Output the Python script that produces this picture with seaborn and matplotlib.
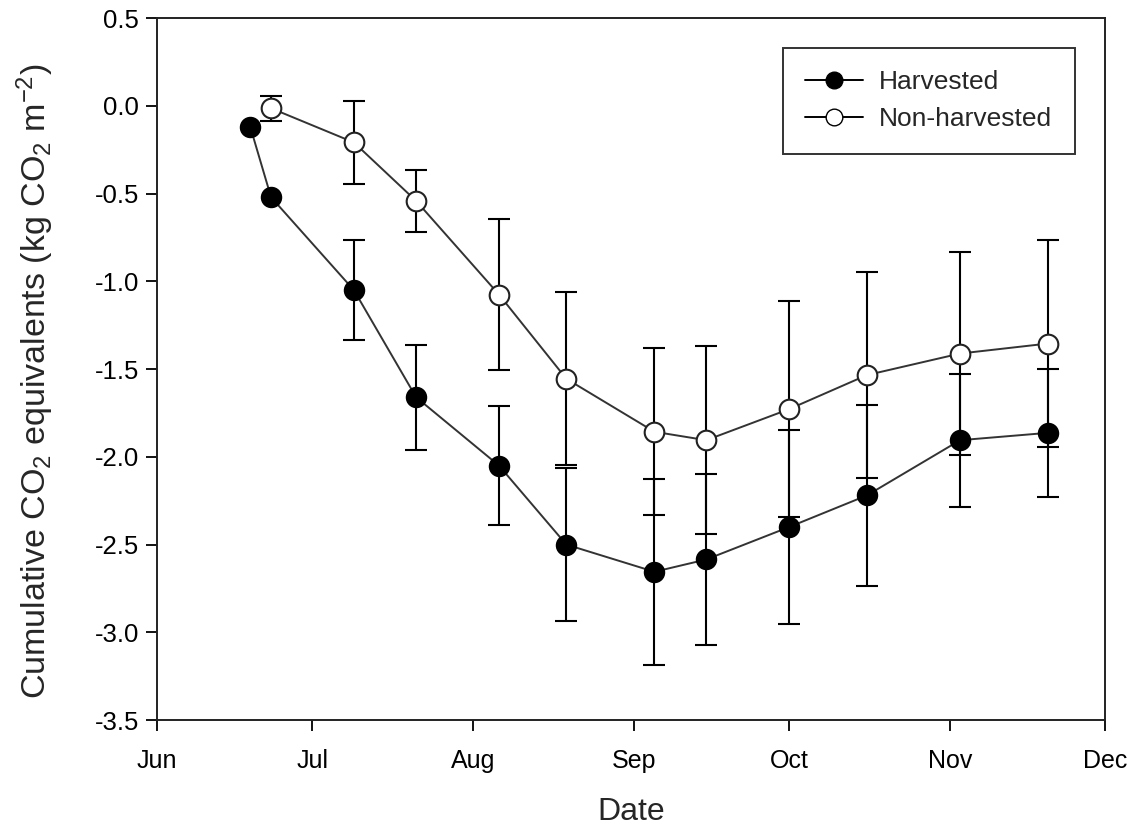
import matplotlib
matplotlib.use("Agg")
import matplotlib.pyplot as plt
import seaborn as sns
import pandas as pd
from matplotlib.lines import Line2D

# ---- data ----
harv_dates = ["2010-06-19", "2010-06-23", "2010-07-09", "2010-07-21", "2010-08-06", "2010-08-19",
              "2010-09-05", "2010-09-15", "2010-10-01", "2010-10-16", "2010-11-03", "2010-11-20"]
harv_vals = [-0.12, -0.52, -1.05, -1.66, -2.05, -2.50, -2.655, -2.585, -2.40, -2.22, -1.905, -1.863]
harv_err = [0.0, 0.0, 0.285, 0.30, 0.34, 0.435, 0.53, 0.49, 0.555, 0.515, 0.38, 0.365]

non_dates = ["2010-06-23", "2010-07-09", "2010-07-21", "2010-08-06", "2010-08-19", "2010-09-05",
             "2010-09-15", "2010-10-01", "2010-10-16", "2010-11-03", "2010-11-20"]
non_vals = [-0.013, -0.208, -0.541, -1.075, -1.555, -1.857, -1.905, -1.728, -1.534, -1.411, -1.354]
non_err = [0.072, 0.237, 0.177, 0.432, 0.492, 0.475, 0.535, 0.617, 0.585, 0.576, 0.59]

month_ticks = ["2010-06-01", "2010-07-01", "2010-08-01", "2010-09-01", "2010-10-01", "2010-11-01", "2010-12-01"]
month_labels = ["Jun", "Jul", "Aug", "Sep", "Oct", "Nov", "Dec"]
y_ticks = [0.5, 0.0, -0.5, -1.0, -1.5, -2.0, -2.5, -3.0, -3.5]

sns.set_theme(style="ticks")
plt.rcParams["font.family"] = ["Liberation Sans", "DejaVu Sans"]
plt.rcParams["mathtext.default"] = "regular"

df_h = pd.DataFrame({"date": pd.to_datetime(harv_dates), "value": harv_vals, "err": harv_err,
                     "group": "Harvested"})
df_n = pd.DataFrame({"date": pd.to_datetime(non_dates), "value": non_vals, "err": non_err,
                     "group": "Non-harvested"})

fig = plt.figure(figsize=(11.3, 8.3), dpi=100)
ax = fig.add_axes([0.139, 0.1325, 0.839, 0.8455])

# error bars (only where an error is shown)
for d in (df_h, df_n):
    e = d[d["err"] > 0]
    ax.errorbar(e["date"], e["value"], yerr=e["err"], fmt="none", ecolor="black",
                elinewidth=1.5, capsize=8, capthick=1.5, zorder=2)

df = pd.concat([df_h, df_n], ignore_index=True)
sns.lineplot(data=df, x="date", y="value", hue="group",
             palette={"Harvested": "#333333", "Non-harvested": "#333333"},
             linewidth=1.4, ax=ax, legend=False, zorder=3)

# markers
sns.scatterplot(data=df_h, x="date", y="value", s=200, color="black", edgecolor="black",
                linewidth=1.3, ax=ax, legend=False, zorder=4)
sns.scatterplot(data=df_n, x="date", y="value", s=200, color="white", edgecolor="#222222",
                linewidth=1.5, ax=ax, legend=False, zorder=4)

ax.set_xlim(pd.to_datetime(month_ticks[0]), pd.to_datetime(month_ticks[-1]))
ax.set_xticks(pd.to_datetime(month_ticks))
ax.set_xticklabels(month_labels)
ax.set_ylim(-3.5, 0.5)
ax.set_yticks(y_ticks)
ax.set_yticklabels([f"{v:.1f}" for v in y_ticks])

ax.tick_params(axis="both", direction="out", length=8, width=1.3, colors="black", pad=5)
ax.tick_params(axis="y", labelsize=18.5)
ax.tick_params(axis="x", labelsize=18, pad=13)
for s in ax.spines.values():
    s.set_linewidth(1.4)
    s.set_color("#222222")
    s.set_visible(True)

ax.set_xlabel("Date", fontsize=23, labelpad=17)
ax.set_ylabel("Cumulative CO$_2$ equivalents (kg CO$_2$ m$^{-2}$)", fontsize=24.5)
ax.yaxis.set_label_coords(-0.1065, 0.483)

handles = [Line2D([], [], color="black", lw=1.4, marker="o", ms=12, mfc="black", mec="black"),
           Line2D([], [], color="black", lw=1.4, marker="o", ms=12, mfc="white", mec="black")]
leg = ax.legend(handles, ["Harvested", "Non-harvested"], loc="upper right",
                bbox_to_anchor=(0.968, 0.958), fontsize=19, frameon=True, fancybox=False,
                handlelength=2.2, borderpad=0.85, labelspacing=0.5, handletextpad=0.6,
                borderaxespad=0)
leg.get_frame().set_edgecolor("black")
leg.get_frame().set_linewidth(1.4)

fig.savefig("out.png", dpi=100)
